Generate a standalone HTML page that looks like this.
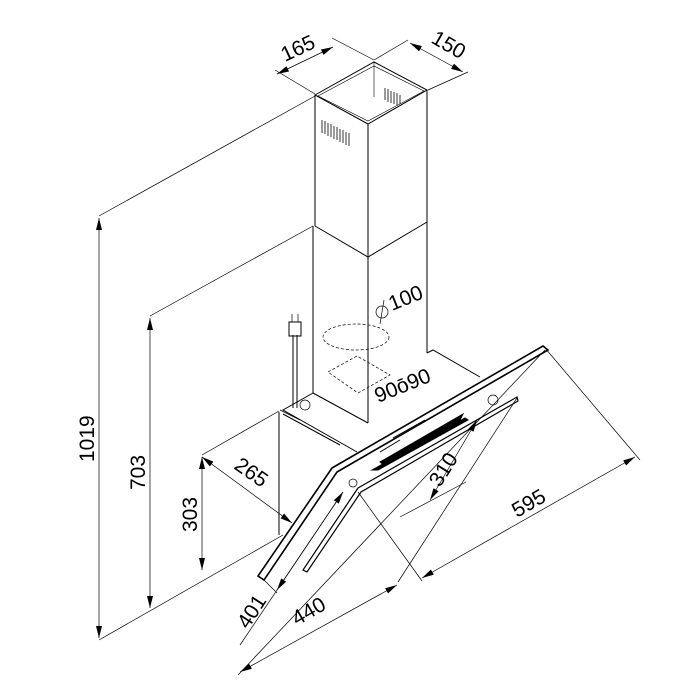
<!DOCTYPE html>
<html><head><meta charset="utf-8"><style>
html,body{margin:0;padding:0;background:#fff;width:700px;height:700px;overflow:hidden}
svg{display:block}
text{font-family:"Liberation Sans",sans-serif;font-size:21px;fill:#000}
</style></head><body>
<svg width="700" height="700" viewBox="0 0 700 700" xmlns="http://www.w3.org/2000/svg">
<defs>
<marker id="a" viewBox="0 0 12 6" refX="12" refY="3" markerWidth="12" markerHeight="6" orient="auto-start-reverse" markerUnits="userSpaceOnUse"><path d="M0,0 L12,3 L0,6 z" fill="#000"/></marker>
</defs>
<g stroke="#000" fill="none" stroke-width="0.7">
<line x1="99" y1="216" x2="315" y2="96"/>
<line x1="99" y1="640" x2="283" y2="535"/>
<line x1="150" y1="316" x2="313" y2="226"/>
<line x1="202" y1="455" x2="279" y2="411"/>
<line x1="275" y1="70" x2="315" y2="94"/>
<line x1="332" y1="38" x2="374" y2="60"/>
<line x1="408" y1="40" x2="374" y2="60"/>
<line x1="468" y1="72" x2="428" y2="90"/>
<line x1="545" y1="348" x2="640" y2="460"/>
<line x1="358" y1="492" x2="422" y2="581"/>
<line x1="545" y1="350" x2="238" y2="675"/>
<line x1="517" y1="398" x2="398" y2="582"/>
<line x1="262" y1="578" x2="277" y2="593"/>
<line x1="400" y1="517" x2="466" y2="482"/>
<line x1="343" y1="492" x2="240" y2="645"/>
<line x1="99" y1="218" x2="99" y2="638" marker-start="url(#a)" marker-end="url(#a)"/>
<line x1="150" y1="318" x2="150" y2="608" marker-start="url(#a)" marker-end="url(#a)"/>
<line x1="202" y1="457" x2="202" y2="570" marker-start="url(#a)" marker-end="url(#a)"/>
<line x1="202" y1="457" x2="292" y2="523" marker-start="url(#a)" marker-end="url(#a)"/>
<line x1="277" y1="74" x2="333" y2="47" marker-start="url(#a)" marker-end="url(#a)"/>
<line x1="410" y1="43" x2="463" y2="72" marker-start="url(#a)" marker-end="url(#a)"/>
<line x1="422" y1="578" x2="635" y2="457" marker-start="url(#a)" marker-end="url(#a)"/>
<line x1="240" y1="672" x2="397" y2="585" marker-start="url(#a)" marker-end="url(#a)"/>
<line x1="430" y1="500" x2="477" y2="420" marker-start="url(#a)" marker-end="url(#a)"/>
<line x1="277" y1="590" x2="343" y2="492" marker-start="url(#a)" marker-end="url(#a)"/>
<g stroke-width="1">
<polygon points="315,95 374,62 427,90 368,124"/>
<polygon points="318,96 374,66 424,91 368,121" stroke-width="0.6"/>
<line x1="315" y1="95" x2="315" y2="226"/>
<line x1="368" y1="124" x2="368" y2="257"/>
<line x1="427" y1="90" x2="427" y2="222"/>
<line x1="374" y1="62" x2="374" y2="97" stroke-width="0.6"/>
<polyline points="315,226 368,257 427,222"/>
<line x1="313" y1="226" x2="313" y2="393"/>
<line x1="368" y1="257" x2="368" y2="423"/>
<line x1="427" y1="222" x2="427" y2="353"/>
<line x1="313" y1="393" x2="368" y2="423"/>
</g>
<g stroke-width="0.8">
<line x1="322" y1="120" x2="322" y2="133"/><line x1="325" y1="121" x2="325" y2="134"/>
<line x1="328" y1="123" x2="328" y2="136"/><line x1="331" y1="124" x2="331" y2="137"/>
<line x1="334" y1="126" x2="334" y2="139"/><line x1="337" y1="127" x2="337" y2="140"/>
<line x1="340" y1="129" x2="340" y2="142"/><line x1="343" y1="130" x2="343" y2="143"/>
<line x1="346" y1="132" x2="346" y2="145"/><line x1="349" y1="133" x2="349" y2="146"/>
<line x1="385" y1="88" x2="385" y2="100"/><line x1="388" y1="89" x2="388" y2="102"/>
<line x1="391" y1="91" x2="391" y2="103"/><line x1="394" y1="92" x2="394" y2="104"/>
<line x1="397" y1="93" x2="397" y2="105"/><line x1="400" y1="95" x2="400" y2="104"/>
</g>
<ellipse cx="356" cy="337" rx="33" ry="13" stroke-dasharray="3,2"/>
<polygon points="328,372 357,356 390,375 358,393" stroke-dasharray="3,2"/>
<g stroke-width="1">
<polyline points="313,393 283,410 357,452"/>
<line x1="279" y1="412" x2="279" y2="535"/>
<polyline points="427,353 433,350 480,377"/>
<line x1="283" y1="414" x2="340" y2="445"/>
<polygon points="332,468 543,346 548,350 337,472 264,580 258,576" stroke-width="1.6"/>
<line x1="337" y1="472" x2="545" y2="352"/>
<polygon points="358,488 517,397 518,401 361,492 307,572 303,570" stroke-width="1.2"/>
<polygon points="372,470 465,418 468,420 378,470" fill="#000"/>
<polygon points="380,462 463,414 460,420 385,466" fill="#000"/>
<line x1="380" y1="452" x2="400" y2="440"/>
<line x1="393" y1="438" x2="425" y2="420"/>
</g>
<line x1="293" y1="335" x2="293" y2="408" stroke-width="1"/>
<line x1="297" y1="335" x2="297" y2="408" stroke-width="1"/>
<rect x="289" y="322" width="12" height="14" stroke-width="1"/>
<line x1="292" y1="314" x2="292" y2="322"/><line x1="298" y1="314" x2="298" y2="322"/>
<circle cx="305" cy="405" r="5"/>
<circle cx="493" cy="400" r="5"/>
<circle cx="353" cy="483" r="4"/>
<line x1="280" y1="410" x2="300" y2="420"/>
<circle cx="382" cy="312" r="6"/>
<line x1="384" y1="300" x2="380" y2="324"/>
</g>
<text transform="translate(285,62) rotate(-25)">165</text>
<text transform="translate(430,42) rotate(30)">150</text>
<text transform="translate(94,462) rotate(-90)">1019</text>
<text transform="translate(145,490) rotate(-90)">703</text>
<text transform="translate(197,532) rotate(-90)">303</text>
<text transform="translate(233,468) rotate(35)">265</text>
<text transform="translate(440,488) rotate(-58)">310</text>
<text transform="translate(517,518) rotate(-30)">595</text>
<text transform="translate(297,626) rotate(-30)">440</text>
<text transform="translate(248,630) rotate(-57)">401</text>
<text transform="translate(392,311) rotate(-22)">100</text>
<text transform="translate(378,403) rotate(-22)">90ō90</text>
</svg>
</body></html>
